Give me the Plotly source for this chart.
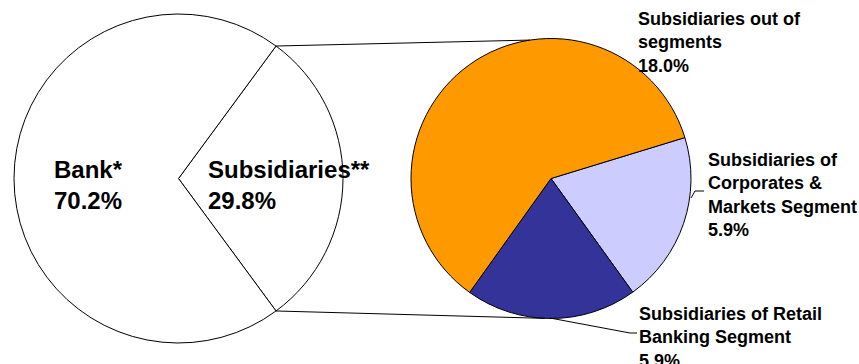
import math
import plotly.graph_objects as go

W, H = 859, 364

# left pie: bank vs subsidiaries (share of total, %)
main_labels = ["Subsidiaries**", "Bank*"]
main_values = [29.8, 70.2]

# right pie: breakdown of subsidiaries (share of total, %)
sub_labels = ["Subsidiaries of Corporates & Markets Segment",
              "Subsidiaries of Retail Banking Segment",
              "Subsidiaries out of segments"]
sub_values = [5.9, 5.9, 18.0]
sub_colors = ["#CCCCFF", "#333399", "#FF9900"]

FONT = "Liberation Sans, Arial, sans-serif"


def px(x):
    return x / W


def py(y):
    return 1 - y / H


# pixel geometry of the two pies
c1, r1 = (178.5, 178.5), 164.5
c2, r2 = (551, 178.5), 140

fig = go.Figure()

sub_share = main_values[0] / sum(main_values) * 360
fig.add_trace(go.Pie(
    labels=main_labels, values=main_values, sort=False, direction="clockwise",
    rotation=90 - sub_share / 2,
    marker=dict(colors=["white", "white"], line=dict(color="black", width=1)),
    textinfo="none", showlegend=False,
    domain=dict(x=[px(c1[0] - r1), px(c1[0] + r1)], y=[py(c1[1] + r1), py(c1[1] - r1)]),
))

fig.add_trace(go.Pie(
    labels=sub_labels, values=sub_values, sort=False, direction="clockwise",
    rotation=73,
    marker=dict(colors=sub_colors, line=dict(color="black", width=1)),
    textinfo="none", showlegend=False,
    domain=dict(x=[px(c2[0] - r2), px(c2[0] + r2)], y=[py(c2[1] + r2), py(c2[1] - r2)]),
))

# connector lines between the subsidiaries slice and the second pie
half = math.radians(sub_share / 2)
p_top = (c1[0] + r1 * math.cos(half), c1[1] - r1 * math.sin(half))
p_bot = (c1[0] + r1 * math.cos(half), c1[1] + r1 * math.sin(half))
q_top = (c2[0] + r2 * math.cos(math.radians(98.6)), c2[1] - r2 * math.sin(math.radians(98.6)))
q_bot = (c2[0] + r2 * math.cos(math.radians(-92.5)), c2[1] - r2 * math.sin(math.radians(-92.5)))

shapes = []
for a, b in [(p_top, q_top), (p_bot, q_bot)]:
    shapes.append(dict(type="line", xref="paper", yref="paper",
                       x0=px(a[0]), y0=py(a[1]), x1=px(b[0]), y1=py(b[1]),
                       line=dict(color="black", width=1)))

# leader lines for labels
for pts in [[(691, 198), (695, 191), (704, 191)], [(550, 318), (630, 333), (637, 333)]]:
    path = "M " + " L ".join(f"{px(x)},{py(y)}" for x, y in pts)
    shapes.append(dict(type="path", xref="paper", yref="paper", path=path,
                       line=dict(color="black", width=1)))

annos = []
big = dict(family=FONT, size=24, color="black")
small = dict(family=FONT, size=18, color="black")
main_pos = [(206, 153.5), (52, 153.5)]
for lab, val, (x, y) in zip(main_labels, main_values, main_pos):
    annos.append(dict(text=f"<b>{lab}<br>{val:.1f}%</b>", x=px(x), y=py(y),
                      xref="paper", yref="paper", xanchor="left", yanchor="top",
                      align="left", showarrow=False, font=big))

sub_text = ["Subsidiaries of<br>Corporates &<br>Markets Segment",
            "Subsidiaries of Retail<br>Banking Segment",
            "Subsidiaries out of<br>segments"]
sub_pos = [(706, 147.5), (637, 301.5), (636, 6.6)]
for lab, val, (x, y) in zip(sub_text, sub_values, sub_pos):
    annos.append(dict(text=f"<b>{lab}<br>{val:.1f}%</b>", x=px(x), y=py(y),
                      xref="paper", yref="paper", xanchor="left", yanchor="top",
                      align="left", showarrow=False, font=small))

fig.update_layout(
    width=W, height=H, margin=dict(l=0, r=0, t=0, b=0),
    paper_bgcolor="white", plot_bgcolor="white",
    shapes=shapes, annotations=annos,
)

# drop the browser's default body margin so the figure sits at the top-left corner
fig.write_html("out.html", config={"displayModeBar": False},
               post_script="document.body.style.margin='0';")
